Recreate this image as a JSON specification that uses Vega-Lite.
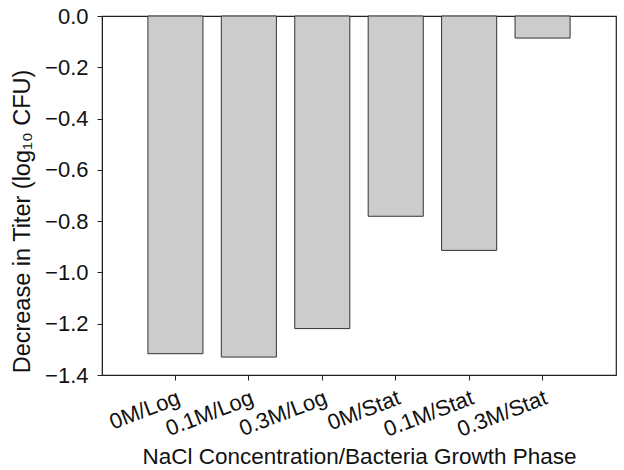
{
  "$schema": "https://vega.github.io/schema/vega-lite/v6.json",
  "width": 514,
  "height": 359,
  "autosize": "none",
  "padding": {"left": 102, "top": 16, "right": 8, "bottom": 95},
  "background": "white",
  "config": {
    "font": "Liberation Sans",
    "view": {"stroke": "#222222", "strokeWidth": 1.2},
    "axis": {
      "labelFont": "Liberation Sans",
      "titleFont": "Liberation Sans",
      "labelColor": "#111111",
      "titleColor": "#111111",
      "domainColor": "#222222",
      "tickColor": "#222222",
      "labelFontSize": 22,
      "titleFontSize": 22.5,
      "titleFontWeight": "normal",
      "grid": false,
      "tickSize": 5
    }
  },
  "data": {
    "values": [
      {"group": "0M/Log", "value": -1.317},
      {"group": "0.1M/Log", "value": -1.330},
      {"group": "0.3M/Log", "value": -1.219},
      {"group": "0M/Stat", "value": -0.781},
      {"group": "0.1M/Stat", "value": -0.914},
      {"group": "0.3M/Stat", "value": -0.086}
    ]
  },
  "mark": {"type": "bar", "fill": "#cccccc", "stroke": "#333333", "strokeWidth": 1},
  "encoding": {
    "x": {
      "field": "group",
      "type": "nominal",
      "sort": null,
      "scale": {"paddingInner": 0.25, "paddingOuter": 0.625},
      "axis": {
        "title": "NaCl Concentration/Bacteria Growth Phase",
        "labelAngle": -21,
        "labelAlign": "right",
        "labelBaseline": "top",
        "labelPadding": 7,
        "titleBaseline": "alphabetic",
        "titleY": 88
      }
    },
    "y": {
      "field": "value",
      "type": "quantitative",
      "scale": {"domain": [-1.4, 0], "nice": false, "zero": false},
      "axis": {
        "title": "Decrease in Titer (log₁₀ CFU)",
        "titleFontSize": 23.5,
        "titleY": 205,
        "values": [-1.4, -1.2, -1.0, -0.8, -0.6, -0.4, -0.2, 0.0],
        "format": ".1f",
        "labelPadding": 9,
        "titlePadding": 10
      }
    }
  }
}
